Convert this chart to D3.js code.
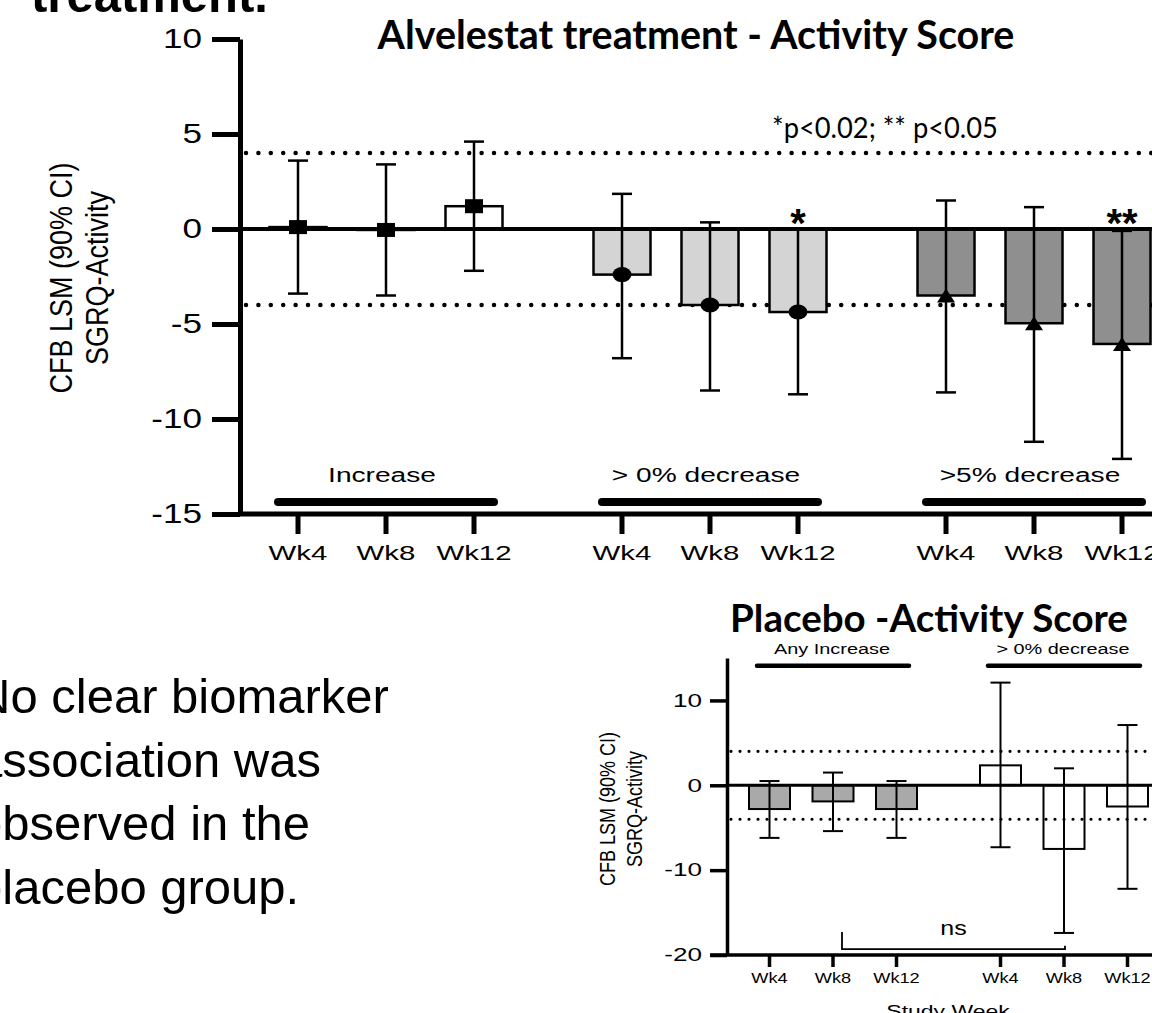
<!DOCTYPE html>
<html>
<head>
<meta charset="utf-8">
<script src="https://cdn.jsdelivr.net/npm/d3@7"></script>
<style>
  body { margin: 0; background: #fff; }
  svg { display: block; }
  text { font-family: "Liberation Sans", Arial, sans-serif; fill: #000; }
  .cal { font-family: Lato, "Open Sans", sans-serif; }
</style>
</head>
<body>
<svg id="slide" width="1152" height="1013"></svg>
<script>
// ---- data ----
const weeks = ['Wk4', 'Wk8', 'Wk12'];

// Alvelestat, activity score
const alvGroups = ['Increase', '> 0% decrease', '>5% decrease'];
const alvMean = [[0.1, -0.05, 1.2], [-2.4, -4.0, -4.37], [-3.5, -4.96, -6.05]];
const alvLow  = [[-3.4, -3.5, -2.2], [-6.8, -8.5, -8.7], [-8.6, -11.2, -12.1]];
const alvHigh = [[3.6, 3.4, 4.6], [1.85, 0.35, 0.0], [1.5, 1.15, -0.1]];
const alvSig  = [['', '', ''], ['', '', '*'], ['', '', '**']];
const alvTicks = [-15, -10, -5, 0, 5, 10];

// Placebo, activity score
const plcGroups = ['Any Increase', '> 0% decrease'];
const plcMean = [[-2.8, -1.9, -2.8], [2.35, -7.5, -2.5]];
const plcLow  = [[-6.2, -5.4, -6.2], [-7.3, -17.4, -12.2]];
const plcHigh = [[0.5, 1.5, 0.5], [12.1, 2.0, 7.1]];
const plcTicks = [-20, -10, 0, 10];

const mcid = [4, -4];   // dotted reference lines
const bodyLines = ['No clear biomarker', 'association was', 'observed in the', 'placebo group.'];

// ---- helpers ----
const svg = d3.select('#slide');

function rows(groups, mean, lo, hi, sig) {
  return groups.flatMap((g, gi) => weeks.map((w, wi) => ({
    g, gi, w, wi, mean: mean[gi][wi], lo: lo[gi][wi], hi: hi[gi][wi], sig: sig ? sig[gi][wi] : ''
  })));
}

// horizontal stretch about the text anchor
function stretch(sel, k) {
  sel.each(function () {
    const t = d3.select(this);
    const x = +t.attr('x') || 0;
    t.attr('transform', `translate(${x},0) scale(${k},1) translate(${-x},0)`);
  });
  return sel;
}
// squeeze / stretch a text to a given width
function fit(sel, w) {
  const bw = sel.node().getComputedTextLength();
  return stretch(sel, w / bw);
}

function txt(parent, x, y, s, size, anchor) {
  return parent.append('text').attr('x', x).attr('y', y)
    .attr('font-size', size).attr('text-anchor', anchor || 'middle').text(s);
}

function dotted(parent, x1, x2, y, w, gap) {
  parent.append('line').attr('x1', x1).attr('x2', x2).attr('y1', y).attr('y2', y)
    .attr('stroke', '#000').attr('stroke-width', w)
    .attr('stroke-linecap', 'round').attr('stroke-dasharray', `0 ${gap}`);
}

// ---- slide text ----
txt(svg, 31, 12, 'treatment.', 49, 'start').attr('font-weight', 'bold');
bodyLines.forEach((s, i) => txt(svg, -25, 713 + i * 63.5, s, 49, 'start'));

// =====================================================================
// Alvelestat chart
// =====================================================================
const alvData = rows(alvGroups, alvMean, alvLow, alvHigh, alvSig);
const yA = d3.scaleLinear().domain([-15, 10]).range([514, 39]);
const gxA = d3.scalePoint().domain(alvGroups).range([386, 1034]);
const wxA = d3.scalePoint().domain(weeks).range([-88, 88]);
const xA = d => gxA(d.g) + wxA(d.w);
const alvFill = ['#ffffff', '#d4d4d4', '#8f8f8f'];
const alvMarker = ['square', 'circle', 'triangle'];
const barWA = 57;

const cA = svg.append('g');

// reference lines behind the bars
mcid.forEach(v => dotted(cA, 246, 1152, yA(v), 4.5, 12.4));

// bars
cA.selectAll('rect.bar').data(alvData).join('rect')
  .attr('class', 'bar')
  .attr('x', d => xA(d) - barWA / 2)
  .attr('width', barWA)
  .attr('y', d => yA(Math.max(0, d.mean)))
  .attr('height', d => Math.abs(yA(d.mean) - yA(0)))
  .attr('fill', d => alvFill[d.gi])
  .attr('stroke', '#000').attr('stroke-width', 2.5);

// zero line
cA.append('line').attr('x1', 240).attr('x2', 1152).attr('y1', yA(0)).attr('y2', yA(0))
  .attr('stroke', '#000').attr('stroke-width', 4);

// error bars
const errA = cA.selectAll('g.err').data(alvData).join('g').attr('class', 'err')
  .attr('stroke', '#000').attr('stroke-width', 2.5);
errA.append('line').attr('x1', xA).attr('x2', xA).attr('y1', d => yA(d.lo)).attr('y2', d => yA(d.hi));
errA.append('line').attr('x1', d => xA(d) - 10).attr('x2', d => xA(d) + 10)
  .attr('y1', d => yA(d.lo)).attr('y2', d => yA(d.lo));
errA.append('line').attr('x1', d => xA(d) - 10).attr('x2', d => xA(d) + 10)
  .attr('y1', d => yA(d.hi)).attr('y2', d => yA(d.hi));

// markers
alvData.forEach(d => {
  const cx = xA(d), cy = yA(d.mean), m = alvMarker[d.gi];
  if (m === 'square') {
    cA.append('rect').attr('x', cx - 9).attr('y', cy - 7).attr('width', 18).attr('height', 14);
  } else if (m === 'circle') {
    cA.append('ellipse').attr('cx', cx).attr('cy', cy).attr('rx', 9.5).attr('ry', 7.5);
  } else {
    cA.append('path').attr('d', `M${cx},${cy - 7}L${cx + 9},${cy + 7}L${cx - 9},${cy + 7}Z`);
  }
});

// significance stars
alvData.filter(d => d.sig).forEach(d => {
  txt(cA, xA(d), yA(0) + 8, d.sig, 40).attr('font-weight', 'bold');
});

// y axis
const axA = cA.append('g').attr('transform', 'translate(240,0)')
  .call(d3.axisLeft(yA).tickValues(alvTicks).tickFormat(d => String(d))
    .tickSize(28).tickSizeOuter(0).tickPadding(10));
axA.select('.domain').attr('stroke-width', 5);
axA.selectAll('.tick line').attr('stroke-width', 5);
stretch(axA.selectAll('.tick text').attr('font-size', 27).attr('font-family', null), 1.3);

// x axis
cA.append('line').attr('x1', 238).attr('x2', 1152).attr('y1', yA(-15)).attr('y2', yA(-15))
  .attr('stroke', '#000').attr('stroke-width', 5);
cA.selectAll('line.xt').data(alvData).join('line').attr('class', 'xt')
  .attr('x1', xA).attr('x2', xA).attr('y1', yA(-15)).attr('y2', yA(-15) + 20)
  .attr('stroke', '#000').attr('stroke-width', 5);
alvData.forEach(d => stretch(txt(cA, xA(d), 560, d.w, 21), 1.4));

// group bars and labels
alvGroups.forEach(g => {
  cA.append('line')
    .attr('x1', gxA(g) + wxA('Wk4') - 20).attr('x2', gxA(g) + wxA('Wk12') + 20)
    .attr('y1', yA(-14.37)).attr('y2', yA(-14.37))
    .attr('stroke', '#000').attr('stroke-width', 8).attr('stroke-linecap', 'round');
  stretch(txt(cA, gxA(g) - 4, yA(-13.3), g, 21), 1.34);
});

// y label
const ylA = cA.append('g').attr('font-size', 27);
[['CFB LSM (90% CI)', 72], ['SGRQ-Activity', 108]].forEach(([s, bx]) => {
  ylA.append('text').attr('text-anchor', 'middle')
    .attr('transform', `translate(${bx},278) rotate(-90) scale(1,1.18)`).text(s);
});

// title and note
fit(txt(cA, 696, 49, 'Alvelestat treatment - Activity Score', 40)
  .attr('class', 'cal').attr('font-weight', 'bold'), 637);
fit(txt(cA, 885, 138, '*p<0.02; ** p<0.05', 28).attr('class', 'cal'), 226);

// =====================================================================
// Placebo chart
// =====================================================================
const plcData = rows(plcGroups, plcMean, plcLow, plcHigh, null);
const yP = d3.scaleLinear().domain([-20, 15]).range([955, 658]);
const gxP = d3.scalePoint().domain(plcGroups).range([833, 1064]);
const wxP = d3.scalePoint().domain(weeks).range([-63.5, 63.5]);
const xP = d => gxP(d.g) + wxP(d.w);
const plcFill = ['#a9a9a9', '#ffffff'];
const barWP = 41;

const cP = svg.append('g');

cP.selectAll('rect.bar').data(plcData).join('rect')
  .attr('class', 'bar')
  .attr('x', d => xP(d) - barWP / 2)
  .attr('width', barWP)
  .attr('y', d => yP(Math.max(0, d.mean)))
  .attr('height', d => Math.abs(yP(d.mean) - yP(0)))
  .attr('fill', d => plcFill[d.gi])
  .attr('stroke', '#000').attr('stroke-width', 2);

mcid.forEach(v => dotted(cP, 731, 1152, yP(v), 3.2, 9));

cP.append('line').attr('x1', 727).attr('x2', 1152).attr('y1', yP(0)).attr('y2', yP(0))
  .attr('stroke', '#000').attr('stroke-width', 3);

const errP = cP.selectAll('g.err').data(plcData).join('g').attr('class', 'err')
  .attr('stroke', '#000').attr('stroke-width', 2);
errP.append('line').attr('x1', xP).attr('x2', xP).attr('y1', d => yP(d.lo)).attr('y2', d => yP(d.hi));
errP.append('line').attr('x1', d => xP(d) - 10).attr('x2', d => xP(d) + 10)
  .attr('y1', d => yP(d.lo)).attr('y2', d => yP(d.lo));
errP.append('line').attr('x1', d => xP(d) - 10).attr('x2', d => xP(d) + 10)
  .attr('y1', d => yP(d.hi)).attr('y2', d => yP(d.hi));

// y axis
const axP = cP.append('g').attr('transform', 'translate(727,0)')
  .call(d3.axisLeft(yP).tickValues(plcTicks).tickFormat(d => String(d))
    .tickSize(17).tickSizeOuter(0).tickPadding(8));
axP.select('.domain').attr('stroke-width', 3.5);
axP.selectAll('.tick line').attr('stroke-width', 3.5);
stretch(axP.selectAll('.tick text').attr('font-size', 18).attr('font-family', null), 1.45);

// x axis
cP.append('line').attr('x1', 710).attr('x2', 1152).attr('y1', yP(-20)).attr('y2', yP(-20))
  .attr('stroke', '#000').attr('stroke-width', 3.5);
cP.selectAll('line.xt').data(plcData).join('line').attr('class', 'xt')
  .attr('x1', xP).attr('x2', xP).attr('y1', yP(-20)).attr('y2', yP(-20) + 12)
  .attr('stroke', '#000').attr('stroke-width', 3.5);
plcData.forEach(d => stretch(txt(cP, xP(d), 983, d.w, 14), 1.3));
stretch(txt(cP, 948, 1017, 'Study Week', 17), 1.35);

// group bars on top
plcGroups.forEach(g => {
  cP.append('line')
    .attr('x1', gxP(g) - 76).attr('x2', gxP(g) + 76)
    .attr('y1', yP(14.1)).attr('y2', yP(14.1))
    .attr('stroke', '#000').attr('stroke-width', 4.5).attr('stroke-linecap', 'round');
  stretch(txt(cP, gxP(g) - 1, yP(15.5), g, 14), 1.42);
});

// ns bracket between the two Wk8 bars
const nsL = plcData.find(d => d.gi === 0 && d.w === 'Wk8');
const nsR = plcData.find(d => d.gi === 1 && d.w === 'Wk8');
const bx1 = xP(nsL) + 9, bx2 = xP(nsR) + 1;
cP.append('path')
  .attr('d', `M${bx1},${yP(-17.3)}V${yP(-19.3)}H${bx2}V${yP(-18.9)}`)
  .attr('fill', 'none').attr('stroke', '#000').attr('stroke-width', 1.8);
stretch(txt(cP, (bx1 + bx2) / 2, yP(-17.6), 'ns', 20), 1.25);

// y label
const ylP = cP.append('g').attr('font-size', 18);
[['CFB LSM (90% CI)', 615], ['SGRQ-Activity', 642]].forEach(([s, bx]) => {
  ylP.append('text').attr('text-anchor', 'middle')
    .attr('transform', `translate(${bx},809) rotate(-90) scale(1,1.25)`).text(s);
});

fit(txt(cP, 929, 632, 'Placebo -Activity Score', 38)
  .attr('class', 'cal').attr('font-weight', 'bold'), 398);
</script>
</body>
</html>
